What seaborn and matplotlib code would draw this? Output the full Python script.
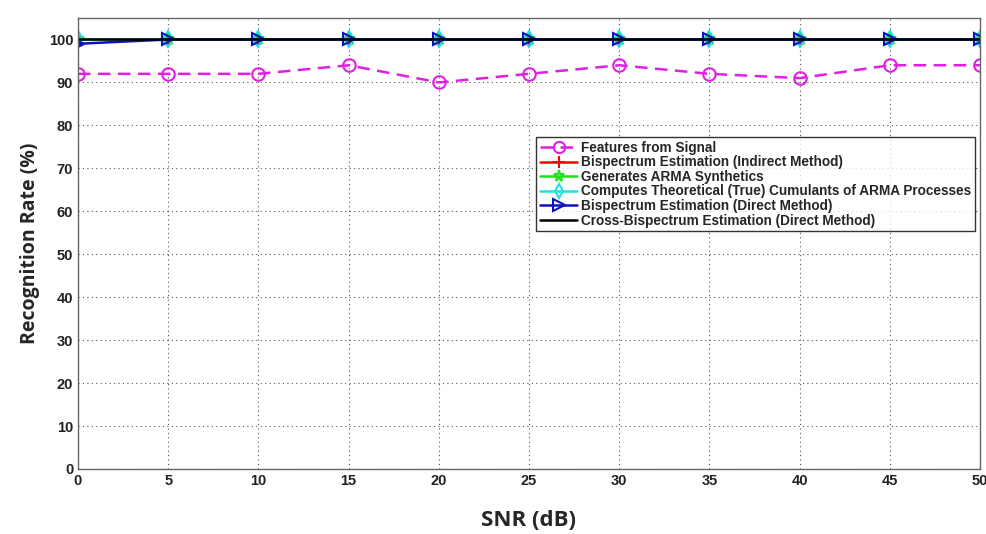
import matplotlib
matplotlib.use("Agg")
import matplotlib.pyplot as plt
import seaborn as sns
import pandas as pd
import numpy as np

snr = [0, 5, 10, 15, 20, 25, 30, 35, 40, 45, 50]
features_signal = [92, 92, 92, 94, 90, 92, 94, 92, 91, 94, 94]
bisp_indirect = [100] * 11
arma_synth = [100] * 11
theo_cumulants = [100] * 11
bisp_direct = [99, 100, 100, 100, 100, 100, 100, 100, 100, 100, 100]
cross_bisp = [100] * 11

series = [
    ("Features from Signal", features_signal),
    ("Bispectrum Estimation (Indirect Method)", bisp_indirect),
    ("Generates ARMA Synthetics", arma_synth),
    ("Computes Theoretical (True) Cumulants of ARMA Processes", theo_cumulants),
    ("Bispectrum Estimation (Direct Method)", bisp_direct),
    ("Cross-Bispectrum Estimation (Direct Method)", cross_bisp),
]
styles = [
    dict(color="#e020e0", marker="o", ls=(0, (5, 3)), mfc="none", ms=9),
    dict(color="#ff0000", marker="+", ls="-", mfc="none", ms=9),
    dict(color="#20e020", marker="*", ls="-", mfc="none", ms=9),
    dict(color="#20e0e0", marker="d", ls="-", mfc="none", ms=8),
    dict(color="#1010c0", marker=">", ls="-", mfc="none", ms=9),
    dict(color="#000000", marker=None, ls="-", mfc="none", ms=0),
]

rows = []
for name, vals in series:
    for x, v in zip(snr, vals):
        rows.append({"SNR": x, "Rate": v, "Method": name})
df = pd.DataFrame(rows)

sns.set_style("white")
plt.rcParams["font.family"] = ["Liberation Sans", "DejaVu Sans"]

fig = plt.figure(figsize=(9.87, 5.34), dpi=100)
ax = fig.add_axes([78/987, (534-469)/534, (980-78)/987, (469-18)/534])

for (name, _), st in zip(series, styles):
    sub = df[df["Method"] == name]
    sns.lineplot(data=sub, x="SNR", y="Rate", ax=ax, color=st["color"],
                 marker=st["marker"], linestyle=st["ls"], linewidth=1.8,
                 markersize=st["ms"], markerfacecolor=st["mfc"],
                 markeredgecolor=st["color"], markeredgewidth=1.5,
                 label=name)

ax.set_xlim(0, 50)
ax.set_ylim(0, 105)
ax.set_xticks(snr)
ax.set_yticks(np.arange(0, 101, 10))
ax.grid(True, linestyle=(0, (1, 3)), color="#555555", linewidth=0.8)
ax.tick_params(direction="in", length=5, labelsize=10.5, colors="#222222")
for lab in ax.get_xticklabels() + ax.get_yticklabels():
    lab.set_fontweight("bold")
for sp in ax.spines.values():
    sp.set_color("#666666")
    sp.set_linewidth(1.0)

ax.set_xlabel("SNR (dB)", fontsize=16, fontweight="bold", family=["Open Sans", "DejaVu Sans"], labelpad=16)
ax.set_ylabel("Recognition Rate (%)", fontsize=14, fontweight="bold", family=["Open Sans", "DejaVu Sans"], labelpad=6)

leg = ax.legend(loc="upper right", bbox_to_anchor=((975-78)/902, (469-137)/451),
                borderaxespad=0.0,
                frameon=True, fancybox=False, edgecolor="#000000",
                borderpad=0.28, labelspacing=0.04, handlelength=2.7, handletextpad=0.3,
                markerscale=0.9, prop={"weight": "bold", "size": 9.8})
leg.get_frame().set_linewidth(1.0)

fig.savefig("out.png", dpi=100)
